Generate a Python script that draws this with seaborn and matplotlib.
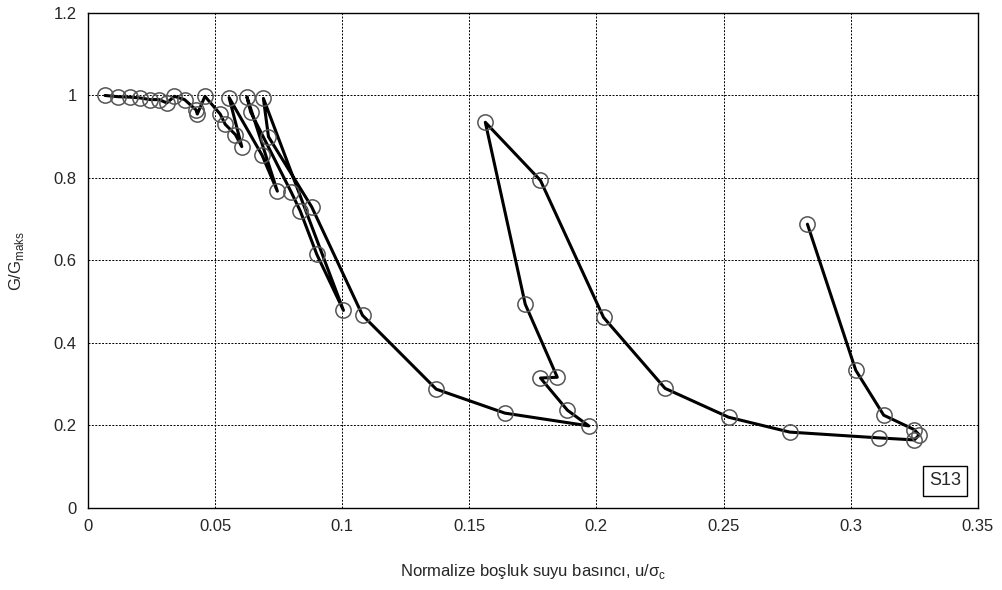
import pandas as pd
import seaborn as sns
from matplotlib import pyplot as plt
from matplotlib.ticker import FuncFormatter

# normalised pore pressure (u/sigma_c), points in test order
u_norm = [0.0067, 0.012, 0.0165, 0.0205, 0.0245, 0.028, 0.031, 0.034, 0.038, 0.0425, 0.043,
          0.046, 0.052, 0.054, 0.058, 0.0605,
          0.0555, 0.0685, 0.0745,
          0.0625, 0.064, 0.080, 0.0835, 0.090, 0.1005,
          0.069, 0.071, 0.088, 0.108, 0.137, 0.164, 0.197,
          0.1886, 0.178, 0.1846, 0.172, 0.1563, 0.178, 0.2028, 0.227, 0.252, 0.276, 0.311, 0.325,
          0.327, 0.325, 0.313, 0.302, 0.283]
# G / G_maks
g_ratio = [1.0, 0.997, 0.996, 0.994, 0.99, 0.99, 0.982, 0.998, 0.99, 0.965, 0.955,
           0.998, 0.955, 0.93, 0.905, 0.876,
           0.995, 0.855, 0.768,
           0.997, 0.96, 0.765, 0.72, 0.615, 0.479,
           0.993, 0.9, 0.73, 0.467, 0.288, 0.23, 0.199,
           0.237, 0.315, 0.317, 0.494, 0.935, 0.794, 0.462, 0.29, 0.22, 0.184, 0.17, 0.165,
           0.177, 0.19, 0.225, 0.334, 0.688]

x_ticks = [0, 0.05, 0.1, 0.15, 0.2, 0.25, 0.3, 0.35]
y_ticks = [0, 0.2, 0.4, 0.6, 0.8, 1.0, 1.2]

df = pd.DataFrame({'u': u_norm, 'g': g_ratio})

sns.set_style('white')
plt.rcParams['font.family'] = ['Liberation Sans', 'DejaVu Sans']

fig = plt.figure(figsize=(10.02, 5.9), dpi=100)
ax = fig.add_axes([0.0878, 0.139, 0.888, 0.839])

sns.lineplot(data=df, x='u', y='g', sort=False, estimator=None, ax=ax,
             color='black', linewidth=2.2, marker='o', markersize=11,
             markerfacecolor='none', markeredgecolor='#555555', markeredgewidth=1.1)

ax.set_xlim(0, 0.35)
ax.set_ylim(0, 1.2)
ax.set_xticks(x_ticks)
ax.set_yticks(y_ticks)
ax.xaxis.set_major_formatter(FuncFormatter(lambda v, p: f'{v:g}'))
ax.yaxis.set_major_formatter(FuncFormatter(lambda v, p: f'{v:g}'))
ax.tick_params(labelsize=12, length=0, pad=8)
ax.grid(True, color='black', linestyle=(0, (2, 1.5)), linewidth=0.7)
ax.set_axisbelow(True)
for s in ax.spines.values():
    s.set_color('black')
    s.set_linewidth(1.0)

ax.set_xlabel('Normalize boşluk suyu basıncı, u/σ$_\\mathregular{c}$', fontsize=12, labelpad=20)
ax.set_ylabel('G/G$_\\mathregular{maks}$', fontsize=12, labelpad=20)

ax.text(0.963, 0.055, 'S13', transform=ax.transAxes, fontsize=13,
        ha='center', va='center',
        bbox=dict(boxstyle='square,pad=0.35', facecolor='white', edgecolor='black', linewidth=1))

plt.savefig('out.png', dpi=100)
